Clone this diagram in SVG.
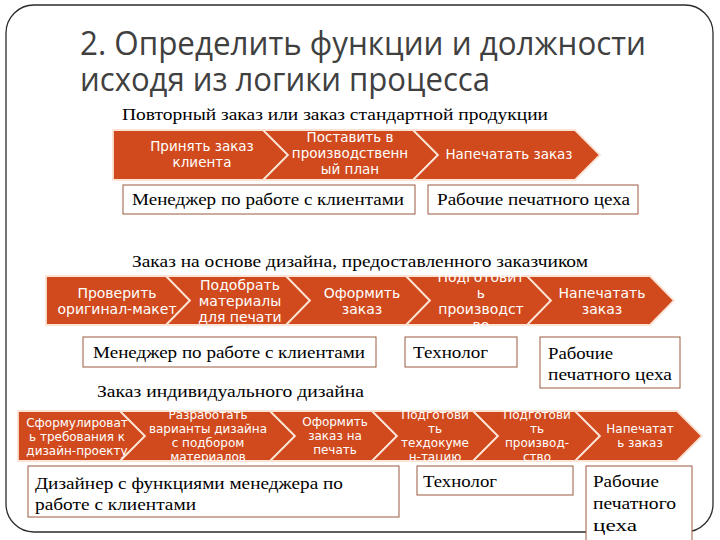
<svg xmlns="http://www.w3.org/2000/svg" width="720" height="540" viewBox="0 0 720 540">
<style>
.frame{fill:#fff;stroke:#2b2b2b;stroke-width:1.3}
.title{font-family:"Open Sans","DejaVu Sans",sans-serif;font-size:33px;fill:#404040}
.sub{font-family:"Liberation Serif",serif;font-size:16px;fill:#000}
.chev{fill:#D14A1D;stroke:#FBE4D6;stroke-width:1.8;stroke-linejoin:miter}
.ct{font-family:"DejaVu Sans",sans-serif;fill:#fff;text-anchor:middle}
.r1{font-size:13.5px}
.r2{font-size:14px}
.r3{font-size:12px}
.box{fill:#fff;stroke:#9A5A40;stroke-width:1}
.bt{font-family:"Liberation Serif",serif;font-size:17px;fill:#000}
</style>
<rect class="frame" x="6" y="5" width="707" height="527" rx="28" ry="28"/>
<g id="title">
<text class="title" x="80" y="55" textLength="566" lengthAdjust="spacingAndGlyphs">2. Определить функции и должности</text>
<text class="title" x="80" y="91" textLength="410" lengthAdjust="spacingAndGlyphs">исходя из логики процесса</text>
</g>
<g id="subtitles">
<text class="sub" x="122" y="120" textLength="426" lengthAdjust="spacingAndGlyphs">Повторный заказ или заказ стандартной продукции</text>
<text class="sub" x="132" y="267" textLength="456" lengthAdjust="spacingAndGlyphs">Заказ на основе дизайна, предоставленного заказчиком</text>
<text class="sub" x="97" y="397" textLength="267" lengthAdjust="spacingAndGlyphs">Заказ индивидуального дизайна</text>
</g>
<!-- Row 1 -->
<g id="r1s1"><path class="chev" d="M113,130 H263 L288,155 L263,180 H113 Z"/>
<text class="ct r1"><tspan x="202" y="151">Принять заказ</tspan><tspan x="202" y="167">клиента</tspan></text></g>
<g id="r1s2"><path class="chev" d="M263,130 H413 L438,155 L413,180 H263 L288,155 Z"/>
<text class="ct r1"><tspan x="350" y="142">Поставить в</tspan><tspan x="350" y="158">производственн</tspan><tspan x="350" y="174">ый план</tspan></text></g>
<g id="r1s3"><path class="chev" d="M413,130 H575 L600,155 L575,180 H413 L438,155 Z"/>
<text class="ct r1"><tspan x="509" y="159">Напечатать заказ</tspan></text></g>
<g id="r1b1"><rect class="box" x="123" y="185" width="292" height="29"/>
<text class="bt" x="132" y="205" textLength="272" lengthAdjust="spacingAndGlyphs">Менеджер по работе с клиентами</text></g>
<g id="r1b2"><rect class="box" x="428" y="185" width="210" height="29"/>
<text class="bt" x="437" y="205" textLength="193" lengthAdjust="spacingAndGlyphs">Рабочие печатного цеха</text></g>
<!-- Row 2 -->
<g id="r2s1"><path class="chev" d="M46,276 H166 L190,300.5 L166,325 H46 Z"/>
<text class="ct r2"><tspan x="117" y="298">Проверить</tspan><tspan x="117" y="314">оригинал-макет</tspan></text></g>
<g id="r2s2"><path class="chev" d="M166,276 H286 L310,300.5 L286,325 H166 L190,300.5 Z"/>
<text class="ct r2"><tspan x="240" y="290">Подобрать</tspan><tspan x="240" y="306">материалы</tspan><tspan x="240" y="322">для печати</tspan></text></g>
<g id="r2s3"><path class="chev" d="M286,276 H406 L430,300.5 L406,325 H286 L310,300.5 Z"/>
<text class="ct r2"><tspan x="362" y="298">Оформить</tspan><tspan x="362" y="314">заказ</tspan></text></g>
<g id="r2s4"><path class="chev" d="M406,276 H527 L551,300.5 L527,325 H406 L430,300.5 Z"/>
<text class="ct r2"><tspan x="481" y="282">Подготовит</tspan><tspan x="481" y="298">ь</tspan><tspan x="481" y="314">производст</tspan><tspan x="481" y="330">во</tspan></text></g>
<g id="r2s5"><path class="chev" d="M527,276 H650 L674,300.5 L650,325 H527 L551,300.5 Z"/>
<text class="ct r2"><tspan x="602" y="298">Напечатать</tspan><tspan x="602" y="314">заказ</tspan></text></g>
<g id="r2b1"><rect class="box" x="83" y="337" width="293" height="30"/>
<text class="bt" x="93" y="358" textLength="272" lengthAdjust="spacingAndGlyphs">Менеджер по работе с клиентами</text></g>
<g id="r2b2"><rect class="box" x="405" y="337" width="112" height="30"/>
<text class="bt" x="413" y="358" textLength="75" lengthAdjust="spacingAndGlyphs">Технолог</text></g>
<g id="r2b3"><rect class="box" x="540" y="337" width="140" height="51"/>
<text class="bt" x="548" y="359" textLength="65" lengthAdjust="spacingAndGlyphs">Рабочие</text>
<text class="bt" x="548" y="380" textLength="124" lengthAdjust="spacingAndGlyphs">печатного цеха</text></g>
<!-- Row 3 -->
<g id="r3s1"><path class="chev" d="M18,411 H120 L145,436 L120,461 H18 Z"/>
<text class="ct r3"><tspan x="77" y="427">Сформулироват</tspan><tspan x="77" y="441">ь требования к</tspan><tspan x="77" y="455">дизайн-проекту</tspan></text></g>
<g id="r3s2"><path class="chev" d="M120,411 H270 L295,436 L270,461 H120 L145,436 Z"/>
<text class="ct r3"><tspan x="208" y="419">Разработать</tspan><tspan x="208" y="433">варианты дизайна</tspan><tspan x="208" y="447">с подбором</tspan><tspan x="208" y="461">материалов</tspan></text></g>
<g id="r3s3"><path class="chev" d="M270,411 H372 L397,436 L372,461 H270 L295,436 Z"/>
<text class="ct r3"><tspan x="335" y="426">Оформить</tspan><tspan x="335" y="440">заказ на</tspan><tspan x="335" y="454">печать</tspan></text></g>
<g id="r3s4"><path class="chev" d="M372,411 H473 L498,436 L473,461 H372 L397,436 Z"/>
<text class="ct r3"><tspan x="435" y="419">Подготови</tspan><tspan x="435" y="433">ть</tspan><tspan x="435" y="447">техдокуме</tspan><tspan x="435" y="461">н-тацию</tspan></text></g>
<g id="r3s5"><path class="chev" d="M473,411 H575 L600,436 L575,461 H473 L498,436 Z"/>
<text class="ct r3"><tspan x="537" y="419">Подготови</tspan><tspan x="537" y="433">ть</tspan><tspan x="537" y="447">производ-</tspan><tspan x="537" y="461">ство</tspan></text></g>
<g id="r3s6"><path class="chev" d="M575,411 H677 L702,436 L677,461 H575 L600,436 Z"/>
<text class="ct r3"><tspan x="640" y="433">Напечатат</tspan><tspan x="640" y="447">ь заказ</tspan></text></g>
<g id="r3b1"><rect class="box" x="28" y="466" width="371" height="51"/>
<text class="bt" x="35" y="489" textLength="308" lengthAdjust="spacingAndGlyphs">Дизайнер с функциями менеджера по</text>
<text class="bt" x="35" y="510" textLength="161" lengthAdjust="spacingAndGlyphs">работе с клиентами</text></g>
<g id="r3b2"><rect class="box" x="417" y="466" width="156" height="29"/>
<text class="bt" x="423" y="487" textLength="74" lengthAdjust="spacingAndGlyphs">Технолог</text></g>
<g id="r3b3"><rect class="box" x="586" y="466" width="106" height="80"/>
<text class="bt" x="593" y="487" textLength="66" lengthAdjust="spacingAndGlyphs">Рабочие</text>
<text class="bt" x="593" y="509" textLength="83" lengthAdjust="spacingAndGlyphs">печатного</text>
<text class="bt" x="593" y="531" textLength="44" lengthAdjust="spacingAndGlyphs">цеха</text></g>
<g id="connectors"/>
</svg>
